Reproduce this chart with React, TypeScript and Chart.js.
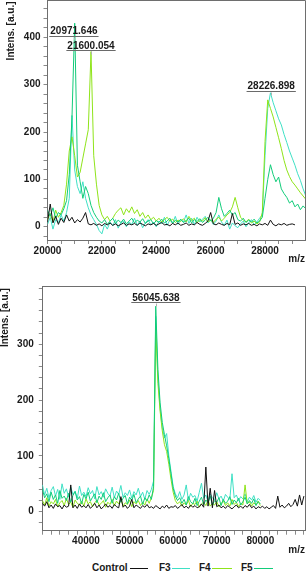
import React, { useEffect, useRef } from "react";
import { Chart, registerables } from "chart.js";
Chart.register(...registerables);

const FONT = "'Liberation Sans', Arial, Helvetica, sans-serif";

const seriesNames = ["Control", "F3", "F4", "F5"];
const seriesColors = ["#111111", "#3FE0C5", "#8FE41A", "#12CC7A"];

// ---------- Top spectrum (m/z 20000 .. 29500, sampled every 100) ----------
const topStart = 20000;
const topStep = 100;
const topControl = [
  10, 48, 8, 22, 5, 18, 9, 25, 12, 20,
  8, 15, 10, 18, 30, 6, 4, 7, 3, 6,
  2, 7, 4, 8, 3, 6, 2, 5, 8, 3,
  6, 4, 7, 3, 8, 5, 2, 6, 4, 7,
  3, 6, 9, 4, 5, 2, 7, 4, 8, 3,
  5, 8, 3, 6, 4, 9, 5, 3, 7, 12,
  30, 6, 4, 8, 5, 3, 7, 4, 28, 5,
  8, 3, 6, 4, 7, 3, 5, 2, 6, 4,
  7, 3, 14, 5, 2, 6, 4, 7, 3, 5,
  6, 4,
];
const topF3 = [
  5, 20, -5, 15, 8, 25, 12, 30, 60, 235,
  120, 85, 70, 95, 60, 40, 25, 15, 5, -8,
  -15, 5, -5, 10, 2, 15, -3, 8, 12, 0,
  10, 5, 18, 3, 12, -2, 8, 15, 4, 10,
  0, 12, 6, 20, 3, 14, 8, 22, 5, 15,
  10, 25, 7, 18, 4, 20, 10, 16, 22, 8,
  15, 5, 12, 25, 10, 3, 14, -5, 8, 2,
  -2, 6, 12, 0, 8, 15, 4, 10, 18, 25,
  150, 250, 283, 262, 245, 228, 215, 195, 178, 160,
  145, 130, 112, 98, 80, 65,
];
const topF4 = [
  15, 28, 10, 35, 20, 30, 45, 90, 160, 190,
  150, 105, 115, 145, 175, 205, 370, 150, 90, 45,
  25, 15, 22, 12, 18, 28, 35, 40, 25, 38,
  30, 42, 28, 36, 22, 30, 18, 25, 15, 20,
  12, 18, 10, 15, 20, 12, 16, 9, 14, 11,
  17, 10, 22, 13, 18, 8, 15, 12, 19, 10,
  14, 9, 16, 20, 12, 18, 25, 30, 42, 62,
  40, 20, 14, 10, 16, 8, 12, 6, 10, 30,
  180, 268, 250, 232, 210, 188, 165, 140, 120, 106,
  95, 88, 80, 72, 65, 58,
];
const topF5 = [
  35, 22, 40, 18, 30, 25, 38, 55, 110, 230,
  430, 130, 95, 60, 85, 70, 45, 30, 20, 12,
  8, 15, 5, 12, 18, 7, 14, 9, 16, 6,
  12, 18, 8, 14, 10, 17, 7, 12, 15, 6,
  13, 9, 16, 8, 12, 18, 7, 14, 10, 16,
  9, 13, 18, 8, 15, 11, 17, 9, 14, 20,
  12, 18, 30, 62, 38, 22, 28, 35, 25, 30,
  15, 12, 18, 9, 14, 10, 16, 8, 12, 20,
  60, 100, 131, 110, 95, 105, 80, 70, 62, 50,
  55, 42, 48, 36, 44, 38,
];
const topPeakLabels = ["20971.646", "21600.054", "28226.898"];
const topPeakLabelLevels = [413, 382, 296];

// ---------- Bottom spectrum (m/z 30000 .. 90000, sampled every 500) ----------
const botStart = 30000;
const botStep = 500;
const botControl = [
  15, 10, 18, 7, 12, 6, 14, 9, 11, 5,
  12, 8, 10, 48, 7, 12, 6, 14, 8, 11,
  7, 13, 6, 10, 15, 7, 12, 5, 9, 14,
  8, 11, 6, 13, 9, 7, 27, 8, 12, 6,
  10, 22, 7, 12, 9, 6, 11, 8, 13, 7,
  9, 6, 11, 8, 5, 10, 7, 12, 6, 9,
  8, 11, 6, 9, 13, 7, 10, 6, 12, 8,
  11, 7, 9, 14, 8, 80, 10, 42, 7, 38,
  9, 12, 7, 10, 6, 11, 8, 5, 9, 12,
  7, 10, 6, 11, 8, 13, 7, 10, 5, 9,
  7, 10, 6, 9, 5, 8, 11, 6, 28, 8,
  12, 7, 10, 15, 9, 13, 22, 10, 30, 12,
  28,
];
const botF3 = [
  48, 30, 42, 25, 38, 45, 28, 40, 22, 50,
  33, 41, 26, 44, 31, 37, 24, 46, 29, 35,
  27, 43, 32, 38, 23, 45, 30, 36, 26, 41,
  33, 28, 44, 25, 37, 31, 47, 26, 34, 29,
  39, 24, 36, 30, 42, 27, 35, 22, 38, 31,
  40, 55, 350, 240, 185, 150, 132, 140, 100, 72,
  45, 32, 25, 36, 22, 30, 48, 20, 33, 26,
  29, 19, 35, 51, 24, 30, 18, 32, 25, 21,
  34, 23, 28, 19, 31, 26, 22, 68, 25, 30,
  20, 27, 23, 32, 18, 26, 21, 29, 17, 24,
  20,
];
const botF4 = [
  20, 12, 25, 10, 18, 14, 22, 9, 16, 20,
  11, 24, 13, 17, 8, 21, 15, 12, 19, 10,
  23, 14, 18, 9, 16, 21, 12, 15, 20, 8,
  17, 13, 22, 11, 19, 14, 24, 10, 16, 13,
  21, 9, 18, 14, 20, 11, 17, 12, 23, 15,
  25, 38, 330, 230, 180, 145, 120, 108, 85, 58,
  35, 20, 14, 18, 10, 16, 12, 20, 9, 15,
  13, 19, 8, 14, 17, 11, 21, 10, 15, 12,
  18, 9, 14, 20, 11, 16, 10, 22, 13, 17,
  9, 15, 12, 48, 14, 18, 10, 16, 12, 19,
  11,
];
const botF5 = [
  40, 25, 32, 18, 35, 22, 30, 15, 38, 24,
  28, 20, 33, 17, 29, 36, 21, 27, 14, 31,
  23, 35, 19, 26, 32, 16, 28, 22, 34, 18,
  25, 30, 15, 27, 21, 33, 17, 24, 29, 14,
  26, 20, 31, 16, 23, 28, 13, 25, 19, 30,
  22, 45, 368, 255, 195, 160, 138, 118, 95, 68,
  42, 28, 20, 25, 15, 22, 12, 27, 18, 14,
  24, 11, 19, 26, 13, 21, 16, 28, 12, 20,
  17, 25, 11, 22, 15, 19, 27, 13, 21, 16,
  24, 12, 18, 26, 14, 20, 15, 23, 11, 18,
  14,
];
const botPeakLabels = ["56045.638"];
const botPeakLabelLevels = [383];

type Panel = {
  start: number;
  step: number;
  series: number[][];
  xMin: number; xMax: number; xMinor: number; xMajor: number; xFirstLabel: number; xLastLabel: number;
  yMin: number; yMax: number; yMinor: number; yMajor: number; yLastLabel: number;
  width: number; height: number;
  padTop: number; padRight: number; yAxisW: number; xAxisH: number;
  yTickLen: number; yTickPad: number; xTickLen: number; xTickPad: number;
  ylabelX: number;
  peakLabels: string[]; peakLevels: number[];
};

const isMult = (v: number, m: number) => Math.abs(v / m - Math.round(v / m)) < 1e-6;

function tickList(min: number, max: number, step: number) {
  const out: { value: number }[] = [];
  for (let k = Math.ceil(min / step); k * step <= max + 1e-9; k++) out.push({ value: k * step });
  return out;
}

function buildChart(canvas: HTMLCanvasElement, p: Panel) {
  const datasets = [0, 3, 2, 1].map((si) => ({
    label: seriesNames[si],
    data: p.series[si].map((y, i) => ({ x: p.start + i * p.step, y })),
    borderColor: seriesColors[si],
    backgroundColor: seriesColors[si],
    borderWidth: 1,
    pointRadius: 0,
    tension: 0,
    fill: false,
  }));
  const tickFont = { family: FONT, size: 10, weight: "bold" as const };
  const decor = {
    id: "decor",
    afterDraw(chart: any) {
      const { ctx, chartArea: a, scales } = chart;
      ctx.save();
      ctx.strokeStyle = "#6e6e6e";
      ctx.lineWidth = 1;
      ctx.beginPath();
      const t = Math.floor(a.top) + 0.5;
      const r = Math.floor(a.right) + 0.5;
      ctx.moveTo(a.left, t);
      ctx.lineTo(r, t);
      ctx.lineTo(r, a.bottom);
      ctx.stroke();
      ctx.fillStyle = "#1a1a1a";
      ctx.font = `bold 10px ${FONT}`;
      // y axis title
      ctx.save();
      ctx.translate(p.ylabelX, a.top + 1.5);
      ctx.rotate(-Math.PI / 2);
      ctx.textAlign = "right";
      ctx.textBaseline = "middle";
      ctx.fillText("Intens. [a.u.]", 0, 0);
      ctx.restore();
      // x axis title
      ctx.textAlign = "right";
      ctx.textBaseline = "middle";
      ctx.fillText("m/z", a.right, a.bottom + 19.3);
      // peak labels
      ctx.textAlign = "center";
      p.peakLabels.forEach((txt, i) => {
        const x = scales.x.getPixelForValue(parseFloat(txt));
        const y = scales.y.getPixelForValue(p.peakLevels[i]);
        ctx.fillStyle = "#1a1a1a";
        ctx.fillText(txt, x, y);
        const w = ctx.measureText(txt).width;
        const uy = Math.round(y + 4.5) + 0.5;
        ctx.strokeStyle = "#6a6a6a";
        ctx.beginPath();
        ctx.moveTo(x - w / 2 - 1, uy);
        ctx.lineTo(x + w / 2 + 1, uy);
        ctx.stroke();
        ctx.strokeStyle = "#b0b0b0";
        ctx.beginPath();
        ctx.moveTo(Math.round(x) + 0.5, uy + 1);
        ctx.lineTo(Math.round(x) + 0.5, uy + 4);
        ctx.stroke();
      });
      ctx.restore();
    },
  };
  return new Chart(canvas, {
    type: "line",
    data: { datasets },
    plugins: [decor],
    options: {
      responsive: false,
      animation: false,
      devicePixelRatio: 1,
      layout: { padding: { top: p.padTop, right: p.padRight, left: 0, bottom: 0 } },
      plugins: { legend: { display: false }, tooltip: { enabled: false }, title: { display: false } },
      scales: {
        x: {
          type: "linear",
          min: p.xMin,
          max: p.xMax,
          afterBuildTicks: (s: any) => {
            s.ticks = tickList(p.xMin, p.xMax, p.xMinor);
          },
          afterFit: (s: any) => {
            s.height = p.xAxisH;
            s.paddingLeft = 0; s.paddingRight = 0; s.paddingTop = 0; s.paddingBottom = 0;
          },
          ticks: {
            autoSkip: false,
            maxRotation: 0,
            minRotation: 0,
            padding: p.xTickPad,
            color: "#1a1a1a",
            font: tickFont,
            callback: (v: any) => {
              const n = Number(v);
              return isMult(n, p.xMajor) && n >= p.xFirstLabel && n <= p.xLastLabel ? String(n) : "";
            },
          },
          grid: { drawOnChartArea: false, drawTicks: true, tickLength: p.xTickLen, color: "#8a8a8a", tickColor: "#8a8a8a" },
          border: { display: true, color: "#6e6e6e", width: 1 },
        },
        y: {
          type: "linear",
          min: p.yMin,
          max: p.yMax,
          afterBuildTicks: (s: any) => {
            s.ticks = tickList(p.yMin, p.yMax, p.yMinor);
          },
          afterFit: (s: any) => {
            s.width = p.yAxisW;
            s.paddingLeft = 0; s.paddingRight = 0; s.paddingTop = 0; s.paddingBottom = 0;
          },
          ticks: {
            autoSkip: false,
            padding: p.yTickPad,
            color: "#1a1a1a",
            font: tickFont,
            callback: (v: any) => {
              const n = Number(v);
              return isMult(n, p.yMajor) && n <= p.yLastLabel ? String(n) : "";
            },
          },
          grid: { drawOnChartArea: false, drawTicks: true, tickLength: p.yTickLen, color: "#8a8a8a", tickColor: "#8a8a8a" },
          border: { display: true, color: "#6e6e6e", width: 1 },
        },
      },
    } as any,
  });
}

const topPanel: Panel = {
  start: topStart, step: topStep,
  series: [topControl, topF3, topF4, topF5],
  xMin: 20000, xMax: 29470, xMinor: 500, xMajor: 2000, xFirstLabel: 20000, xLastLabel: 28000,
  yMin: -28, yMax: 479, yMinor: 20, yMajor: 100, yLastLabel: 400,
  width: 307, height: 262,
  padTop: 0, padRight: 2, yAxisW: 47.5, xAxisH: 22,
  yTickLen: 4, yTickPad: 3, xTickLen: 4, xTickPad: 1,
  ylabelX: 11.7,
  peakLabels: topPeakLabels, peakLevels: topPeakLabelLevels,
};

const botPanel: Panel = {
  start: botStart, step: botStep,
  series: [botControl, botF3, botF4, botF5],
  xMin: 29970, xMax: 90250, xMinor: 2000, xMajor: 10000, xFirstLabel: 40000, xLastLabel: 80000,
  yMin: -34, yMax: 403, yMinor: 20, yMajor: 100, yLastLabel: 300,
  width: 307, height: 296,
  padTop: 24.7, padRight: 2, yAxisW: 42.3, xAxisH: 27.3,
  yTickLen: 3.5, yTickPad: 5, xTickLen: 4, xTickPad: 1,
  ylabelX: 5.5,
  peakLabels: botPeakLabels, peakLevels: botPeakLabelLevels,
};

function SpectrumCanvas({ panel, top }: { panel: Panel; top: number }) {
  const ref = useRef<HTMLCanvasElement | null>(null);
  useEffect(() => {
    if (!ref.current) return;
    const c = buildChart(ref.current, panel);
    return () => c.destroy();
  }, [panel]);
  return (
    <canvas
      ref={ref}
      width={panel.width}
      height={panel.height}
      style={{ position: "absolute", left: 0, top, width: panel.width, height: panel.height, display: "block" }}
    />
  );
}

const legendTextX = [92, 159, 199, 241];
const legendLine = [
  [130, 148],
  [172, 190],
  [212, 232],
  [254, 273],
];

export default function App() {
  return (
    <div style={{ position: "absolute", left: 0, top: 0, width: 307, height: 574, background: "#fff", overflow: "hidden" }}>
      <SpectrumCanvas panel={topPanel} top={0} />
      <SpectrumCanvas panel={botPanel} top={262} />
      {seriesNames.map((n, i) => (
        <React.Fragment key={n}>
          <div
            style={{
              position: "absolute",
              left: legendTextX[i],
              top: 562,
              height: 12,
              lineHeight: "12px",
              font: `bold 10px ${FONT}`,
              color: "#1a1a1a",
              whiteSpace: "nowrap",
            }}
          >
            {n}
          </div>
          <div
            style={{
              position: "absolute",
              left: legendLine[i][0],
              top: 567.5,
              width: legendLine[i][1] - legendLine[i][0],
              height: 0,
              borderTop: `1.5px solid ${seriesColors[i]}`,
            }}
          />
        </React.Fragment>
      ))}
    </div>
  );
}
